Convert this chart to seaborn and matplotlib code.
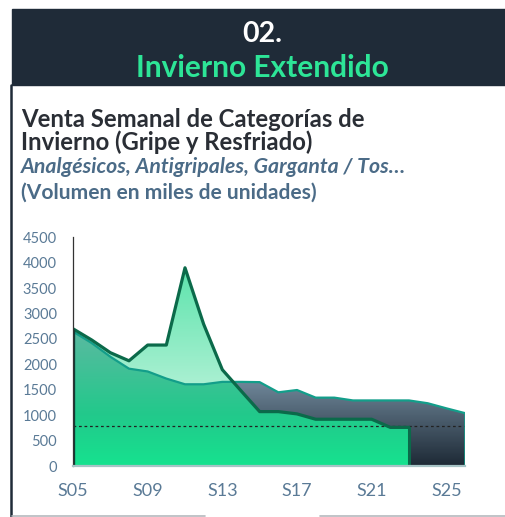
import numpy as np
import pandas as pd
import matplotlib
matplotlib.use("Agg")
import matplotlib.pyplot as plt
import seaborn as sns
from matplotlib.colors import LinearSegmentedColormap
from matplotlib.path import Path
from matplotlib.patches import Rectangle
from matplotlib.lines import Line2D

# weekly volume (thousands of units), S05..S26
weeks = list(range(5, 27))
tick_weeks = [5, 9, 13, 17, 21, 25]
current = [2700, 2480, 2230, 2070, 2380, 2380, 3900, 2790, 1895, 1480,
           1070, 1070, 1025, 920, 920, 920, 920, 760, 760]  # S05..S23
previous = [2645, 2420, 2150, 1915, 1860, 1720, 1608, 1608, 1655, 1655, 1650,
            1450, 1495, 1345, 1345, 1290, 1290, 1290, 1290, 1235, 1135, 1040]
ref_level = 780
y_ticks = list(range(0, 4501, 500))

W, H = 506, 517
dark = "#1f2b38"
slate = "#4b6b87"
tick_col = "#5a7a96"

sns.set_style("white")
plt.rcParams["font.family"] = ["Lato", "DejaVu Sans"]

df_cur = pd.DataFrame({"week": weeks[:len(current)], "vol": current})
df_prev = pd.DataFrame({"week": weeks, "vol": previous})

fig = plt.figure(figsize=(W / 100, H / 100), dpi=100)
ax = fig.add_axes([73 / W, 51 / H, 392 / W, 228.7 / H])
ax.set_xlim(weeks[0], weeks[-1])
ax.set_ylim(0, 4500)


def gradient_fill(path, stops, z):
    vals = [v / 4500 for v, c in stops]
    cmap = LinearSegmentedColormap.from_list("g", list(zip(vals, [c for v, c in stops])))
    img = np.linspace(0, 1, 300).reshape(-1, 1)
    im = ax.imshow(img, extent=(weeks[0], weeks[-1], 0, 4500), origin="lower",
                   aspect="auto", cmap=cmap, vmin=0, vmax=1, zorder=z)
    im.set_clip_path(path, transform=ax.transData)


def area_path(x, y):
    coll = ax.fill_between(x, 0, y)
    p = Path.make_compound_path(*coll.get_paths())
    coll.remove()
    return p


def lower_envelope(x, a, b):
    # min of two polylines, with the crossing points added
    xs, ys = [x[0]], [min(a[0], b[0])]
    for i in range(len(x) - 1):
        d0, d1 = a[i] - b[i], a[i + 1] - b[i + 1]
        if d0 * d1 < 0:
            t = d0 / (d0 - d1)
            xs.append(x[i] + t * (x[i + 1] - x[i]))
            ys.append(a[i] + t * (a[i + 1] - a[i]))
        xs.append(x[i + 1])
        ys.append(min(a[i + 1], b[i + 1]))
    return np.array(xs), np.array(ys)


xc = np.array(df_cur["week"], float)
yc = np.array(current, float)
xp = np.array(weeks, float)
yp = np.array(previous, float)

slate_stops = [(0, "#1e2a36"), (1700, "#71899c"), (4500, "#9fb1bf")]
mint_stops = [(0, "#c8f6e2"), (1600, "#aaf0d2"), (4000, "#5ae3ab"), (4500, "#50e0a6")]
green_stops = [(0, "#16e28f"), (1000, "#22c98b"), (2700, "#5cb9a1"), (4500, "#6cc0aa")]

gradient_fill(area_path(xp, yp), slate_stops, 1)
gradient_fill(area_path(xc, yc), mint_stops, 2)
xm, ym = lower_envelope(xc, yc, yp[:len(current)])
gradient_fill(area_path(xm, ym), green_stops, 3)

# reference line
ax.axhline(ref_level, color="#222222", lw=0.9, ls=(0, (2.2, 2.2)), zorder=4)

# series outlines
sns.lineplot(data=df_prev, x="week", y="vol", color="#139e8a", lw=1.6, ax=ax, zorder=5)
sns.lineplot(data=df_cur, x="week", y="vol", color="#0b6a4a", lw=2.3, ax=ax, zorder=6)
ax.vlines(weeks[-1], 0, previous[-1], color="#139e8a", lw=1.8, zorder=5)
ax.vlines(df_cur["week"].iloc[-1], 0, current[-1], color="#0b6a4a", lw=2.2, zorder=6)
ax.vlines(weeks[0], 0, current[0], color="#0f3d36", lw=2.4, zorder=6)

ax.set_xticks(tick_weeks)
ax.set_xticklabels([f"S{w:02d}" for w in tick_weeks])
ax.set_yticks(y_ticks)
ax.set_yticklabels([str(v) for v in y_ticks])
ax.tick_params(axis="x", length=0, pad=12.5, labelsize=13, labelcolor=tick_col)
ax.tick_params(axis="y", length=0, pad=11.5, labelsize=10.5, labelcolor=tick_col)
ax.set_xlabel("")
ax.set_ylabel("")
for s in ["top", "right"]:
    ax.spines[s].set_visible(False)
ax.spines["left"].set_color("#333333")
ax.spines["left"].set_linewidth(0.9)
ax.spines["left"].set_zorder(7)
ax.spines["bottom"].set_color("#a7c4c6")
ax.spines["bottom"].set_linewidth(1.6)
ax.spines["bottom"].set_zorder(7)
ax.grid(False)


def fx(x):
    return x / W


def fy(y):
    return 1 - y / H


# header band and frame
fig.patches.append(Rectangle((fx(12), fy(85)), fx(W) - fx(12), fy(9) - fy(85),
                             transform=fig.transFigure, color=dark, zorder=0))
fig.lines.append(Line2D([fx(11.5), fx(11.5)], [fy(85), 0], transform=fig.transFigure,
                        color=dark, lw=1.8))
fig.lines.append(Line2D([fx(12), fx(205)], [fy(516), fy(516)], transform=fig.transFigure,
                        color="#b5b9bd", lw=1.2))
fig.lines.append(Line2D([fx(320), fx(W)], [fy(516), fy(516)], transform=fig.transFigure,
                        color="#b5b9bd", lw=1.2))

fig.text(fx(262), fy(41.7), "02.", color="white", fontsize=20.5, fontweight="bold",
         ha="center", va="baseline")
fig.text(fx(262), fy(77.3), "Invierno Extendido", color="#2de597", fontsize=21.5,
         fontweight="bold", ha="center", va="baseline")

fig.text(fx(20.7), fy(126.7), "Venta Semanal de Categorías de", color="#2a2e35",
         fontsize=17.2, fontweight="bold", va="baseline")
fig.text(fx(20.7), fy(150), "Invierno (Gripe y Resfriado)", color="#2a2e35",
         fontsize=17.2, fontweight="bold", va="baseline")
fig.text(fx(20.7), fy(173), "Analgésicos, Antigripales, Garganta / Tos…", color=slate,
         fontsize=15.3, fontweight="bold", fontstyle="italic", va="baseline")
fig.text(fx(20.7), fy(199), "(Volumen en miles de unidades)", color=slate,
         fontsize=15.1, fontweight="bold", va="baseline")

fig.savefig("out.png", dpi=100)
